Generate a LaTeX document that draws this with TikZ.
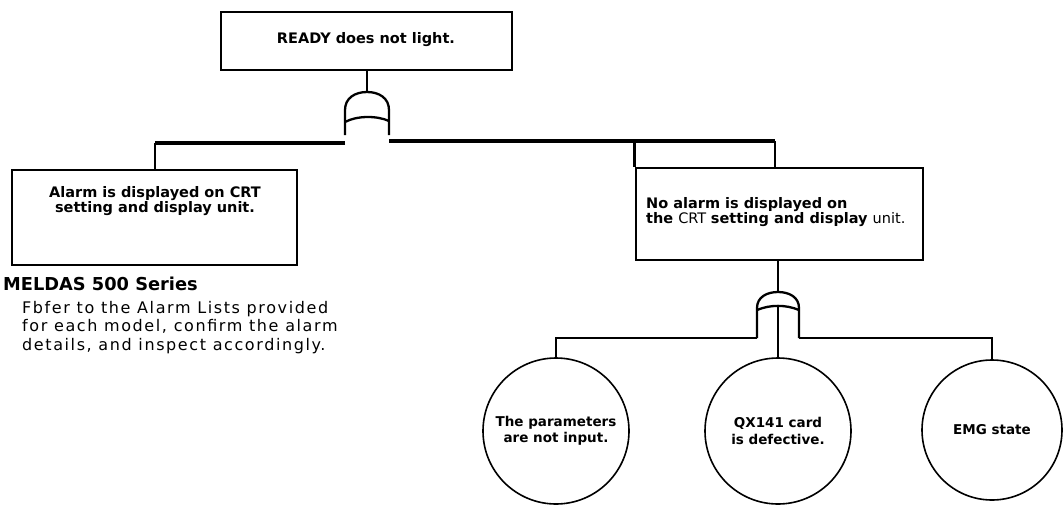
\documentclass[tikz,border=0pt]{standalone}
\usepackage{fontspec}
\setmainfont{DejaVu Sans}
\newfontfamily\spacedfont{DejaVu Sans}[LetterSpace=10]
\usepackage{tikz}
\tikzset{
  evbox/.style={draw=black, line width=2.8pt, inner sep=0pt},
  boxedge/.style={line width=2.8pt},
  evcircle/.style={draw=black, circle, line width=1.6pt, inner sep=0pt,
    minimum size=146pt, align=center, font=\bfseries\fontsize{13.5}{16.5}\selectfont},
  gateline/.style={line width=2.3pt},
  bus/.style={line width=3.6pt},
  conn/.style={line width=2pt},
  lab/.style={inner sep=0pt, font=\bfseries\fontsize{14.5}{15.5}\selectfont}
}

\begin{document}
\begin{tikzpicture}[x=1pt,y=-1pt]
  \useasboundingbox (0,0) rectangle (1063,507);

  % top event
  \node[evbox, minimum width=291pt, minimum height=58pt] (ready) at (366.5,41) {};
  \node[lab] (readytxt) at (366,40) {READY does not light.};

  % AND gate under the top event
  \coordinate (g1) at (367,92);
  \draw[gateline, shift={(g1)}] (-22,43) -- (-22,18) .. controls (-22,6) and (-12,0) .. (0,0)
    .. controls (12,0) and (22,6) .. (22,18) -- (22,43);
  \draw[gateline, shift={(g1)}] (-22,30) .. controls (-10,23.5) and (10,23.5) .. (22,29);
  \draw[conn] (g1 |- ready.south) -- (g1);

  % the two branches
  \node[evbox, minimum width=285pt, minimum height=95pt] (alarm) at (154.5,217.5) {};
  \node[lab, align=center] (alarmtxt) at (155,201) {Alarm is displayed on CRT\\setting and display unit.};
  \node[evbox, minimum width=287pt, minimum height=92pt] (noalarm) at (779.5,214) {};
  \node[lab, align=left, anchor=west] (noalarmtxt) at (646,212)
    {No alarm is displayed on\\the \mdseries CRT \bfseries setting and display \mdseries unit.};

  \coordinate (g1L) at (345,143);
  \coordinate (g1R) at (389,141);
  \coordinate (jR) at (775,141);
  \draw[bus] (g1L) -- (g1L -| alarm.north);
  \draw[conn] (g1L -| alarm.north) -- (alarm.north);
  \draw[bus] (g1R) -- (jR);
  \draw[conn] (jR) -- (jR |- noalarm.north);
  \draw[boxedge] (noalarm.north west) -- (noalarm.north west |- jR);

  % note under the left branch
  \node[anchor=base west, inner sep=0pt, font=\bfseries\fontsize{17.8}{17.8}\selectfont] (series) at (3,290)
    {MELDAS 500 Series};
  \node[anchor=north west, inner sep=0pt, align=left, font=\spacedfont\fontsize{16}{18.5}\selectfont]
    (note) at (22,301) {Fbfer to the Alarm Lists provided\\for each model, confirm the alarm\\details, and inspect accordingly.};

  % AND gate under the right branch
  \coordinate (g2) at (778,292);
  \draw[gateline, shift={(g2)}] (-21,46) -- (-21,16) .. controls (-21,5) and (-11,0) .. (0,0)
    .. controls (11,0) and (21,5) .. (21,16) -- (21,46);
  \draw[gateline, shift={(g2)}] (-21,18) .. controls (-8,12.5) and (8,12.5) .. (21,18);
  \draw[conn] (noalarm.south -| g2) -- (g2);

  % basic events
  \node[evcircle] (c1) at (556,431) {The parameters\\are not input.};
  \node[evcircle] (c2) at (778,431) {QX141 card\\is defective.};
  \node[evcircle, minimum size=140pt] (c3) at (992,430) {EMG state};

  \coordinate (g2L) at (757,338);
  \coordinate (g2M) at (778,306);
  \coordinate (g2R) at (799,338);
  \draw[conn] (g2L) -| (c1.north);
  \draw[conn] (g2M) -- (c2.north);
  \draw[conn] (g2R) -| (c3.north);
\end{tikzpicture}
\end{document}
